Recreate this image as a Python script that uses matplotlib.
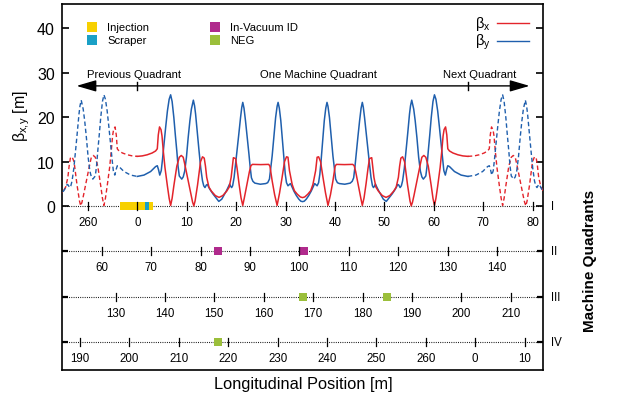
import matplotlib
matplotlib.use("Agg")
from matplotlib import pyplot as plt
from matplotlib.patches import Rectangle
from matplotlib.transforms import blended_transform_factory

plt.rcParams['font.family'] = ['Liberation Sans', 'DejaVu Sans']

# beta functions along one machine quadrant (solid) and the neighbouring ones (dashed)
# s in metres (ring position of row I), beta in metres
bx_prev_s = [-15.8, -15.0, -14.5, -14.05, -13.8, -13.55, -13.2, -12.8, -12.2, -11.7, -11.45, -11.2,
             -10.9, -10.1, -9.6, -9.3, -8.9, -8.5, -8.0, -7.4, -7.05, -6.75, -6.45, -6.1, -5.6,
             -5.3, -5.0, -4.8, -4.5, -4.25, -4.05, -3.7, -3.0, -2.0, -1.0, 0.0]
bx_prev = [2.4, 3.4, 4.3, 6.5, 9.0, 10.8, 11.1, 10.0, 4.8, 1.2, 0.1, 0.9,
           2.4, 6.8, 9.5, 11.0, 11.4, 11.0, 9.0, 4.6, 1.8, 0.2, 1.8, 4.5, 8.7,
           12.0, 15.8, 17.2, 17.8, 16.0, 12.9, 12.4, 11.95, 11.55, 11.3, 11.2]

bx_quad_s = [0.0, 1.0, 2.0, 3.0, 3.7, 4.05, 4.25, 4.5, 4.8, 5.0, 5.3, 5.6, 6.1, 6.45, 6.75, 7.05,
             7.4, 8.0, 8.5, 8.9, 9.3, 9.6, 10.1, 10.9, 11.2, 11.45, 11.7, 12.2, 12.8, 13.2, 13.55,
             13.8, 14.05, 14.5, 15.0, 15.8, 16.55, 17.3, 18.1, 18.6, 19.0, 19.25, 19.45, 19.9,
             20.2, 20.6, 21.0, 21.35, 21.65, 22.2, 22.7, 23.0, 23.3, 25.0, 26.6, 26.85, 27.3,
             27.8, 28.3, 28.8, 29.3, 29.8, 30.2, 30.5, 30.8, 31.35, 31.8, 32.4, 33.0, 33.45,
             33.9, 34.5, 35.1, 35.55, 36.1, 36.4, 36.7, 37.1, 37.6, 38.1, 38.6, 39.1, 39.6,
             40.05, 40.3, 41.9, 43.6, 43.9, 44.2, 44.7, 45.25, 45.55, 45.9, 46.3, 46.7, 47.0,
             47.45, 47.65, 47.9, 48.3, 48.8, 49.6, 50.35, 51.1, 51.9, 52.4, 52.85, 53.1, 53.35,
             53.7, 54.1, 54.7, 55.2, 55.45, 55.7, 56.0, 56.8, 57.3, 57.6, 58.0, 58.4, 58.9,
             59.5, 59.85, 60.15, 60.45, 60.8, 61.3, 61.6, 61.9, 62.1, 62.4, 62.65, 62.85, 63.2,
             63.9, 64.9, 65.9, 66.9]
bx_quad = [11.2, 11.3, 11.55, 11.95, 12.4, 12.9, 16.0, 17.8, 17.2, 15.8, 12.0, 8.7, 4.5, 1.8, 0.2, 1.8,
           4.6, 9.0, 11.0, 11.4, 11.0, 9.5, 6.8, 2.4, 0.9, 0.1, 1.2, 4.8, 10.0, 11.1, 10.8,
           9.0, 6.5, 4.3, 3.4, 2.4, 2.0, 2.4, 3.4, 4.3, 6.5, 9.0, 10.9, 10.7,
           8.5, 5.0, 1.9, 0.2, 1.8, 4.9, 7.8, 9.1, 9.4, 9.35, 9.4, 9.0, 5.7,
           2.6, 0.2, 3.0, 6.4, 10.0, 11.1, 11.0, 8.0, 4.9, 3.5, 2.7, 2.1, 1.95,
           2.1, 2.7, 3.5, 4.9, 8.0, 11.0, 11.1, 10.0, 6.4, 3.0, 0.2, 2.6, 5.7,
           9.0, 9.4, 9.35, 9.4, 9.1, 7.8, 4.9, 1.8, 0.2, 1.9, 5.0, 8.5, 10.7,
           10.9, 9.0, 6.5, 4.3, 3.4, 2.4, 2.0, 2.4, 3.4, 4.3, 6.5, 9.0, 10.8,
           11.1, 10.0, 4.8, 1.2, 0.1, 0.9, 2.4, 6.8, 9.5, 11.0, 11.4, 11.0, 9.0,
           4.6, 1.8, 0.2, 1.8, 4.5, 8.7, 12.0, 15.8, 17.2, 17.8, 16.0, 12.9, 12.4,
           11.95, 11.55, 11.3, 11.2]

bx_next_s = [66.9, 68.2, 69.2, 70.2, 70.9, 71.25, 71.45, 71.7, 72.0, 72.2, 72.5, 72.8, 73.3, 73.65,
             73.95, 74.25, 74.6, 75.2, 75.7, 76.1, 76.5, 76.8, 77.3, 78.1, 78.4, 78.65, 78.9,
             79.4, 80.0, 80.4, 80.75, 81.0, 81.25, 81.7, 82.2]
bx_next = [11.2, 11.3, 11.55, 11.95, 12.4, 12.9, 16.0, 17.8, 17.2, 15.8, 12.0, 8.7, 4.5, 1.8,
           0.2, 1.8, 4.6, 9.0, 11.0, 11.4, 11.0, 9.5, 6.8, 2.4, 0.9, 0.1, 1.2,
           4.8, 10.0, 11.1, 10.8, 9.0, 6.5, 4.3, 3.4]

by_prev_s = [-15.9, -15.3, -14.7, -14.45, -14.2, -14.0, -13.7, -13.45, -13.2, -12.85, -12.5, -12.15,
             -11.8, -11.6, -11.35, -10.95, -10.65, -10.3, -9.95, -9.6, -9.3, -9.0, -8.5, -8.25,
             -8.0, -7.7, -7.4, -7.05, -6.75, -6.45, -6.1, -5.75, -5.4, -5.1, -4.85, -4.55, -4.3,
             -4.05, -3.7, -2.7, -1.35, 0.0]
by_prev = [1.95, 2.8, 3.8, 4.3, 4.9, 4.8, 4.2, 4.6, 5.7, 8.5, 12.4, 16.5,
           20.7, 22.5, 23.8, 21.8, 19.2, 15.4, 11.0, 7.9, 6.6, 6.1, 6.8, 9.0,
           12.4, 16.0, 19.9, 23.5, 25.0, 24.0, 21.4, 17.8, 13.9, 10.5, 8.0, 7.0, 8.2,
           9.1, 8.9, 7.8, 7.0, 6.7]

by_quad_s = [0.0, 1.35, 2.7, 3.7, 4.05, 4.3, 4.55, 4.85, 5.1, 5.4, 5.75, 6.1, 6.45, 6.75, 7.05, 7.4,
             7.7, 8.0, 8.25, 8.5, 9.0, 9.3, 9.6, 9.95, 10.3, 10.65, 10.95, 11.35, 11.6, 11.8,
             12.15, 12.5, 12.85, 13.2, 13.45, 13.7, 14.0, 14.2, 14.45, 14.7, 15.3, 15.9, 16.5,
             17.1, 17.6, 18.1, 18.5, 18.7, 18.9, 19.1, 19.3, 19.6, 19.9, 20.2, 20.55, 20.9,
             21.15, 21.35, 21.6, 21.9, 22.25, 22.6, 22.85, 23.1, 23.4, 23.8, 24.9, 26.0, 26.4,
             26.75, 27.0, 27.3, 27.65, 28.0, 28.3, 28.5, 28.75, 29.05, 29.4, 29.7, 29.95, 30.2,
             30.5, 30.8, 31.0, 31.3, 31.7, 32.2, 32.7, 33.1, 33.45,
             33.8, 34.2, 34.7, 35.2, 35.6, 35.9, 36.1, 36.4, 36.7, 36.95, 37.2, 37.5, 37.85,
             38.15, 38.4, 38.6, 38.9, 39.25, 39.6, 39.9, 40.15, 40.5, 40.9, 42.0, 43.1, 43.5,
             43.8, 44.05, 44.3, 44.65, 45.0, 45.3, 45.55, 45.75, 46.0, 46.35, 46.7, 47.0, 47.3,
             47.6, 47.8, 48.0, 48.2, 48.4, 48.8, 49.3, 49.8, 50.4, 51.0, 51.6, 52.2, 52.45,
             52.7, 52.9, 53.2, 53.45, 53.7, 54.05, 54.4, 54.75, 55.1, 55.3, 55.55, 55.95, 56.25,
             56.6, 56.95, 57.3, 57.6, 57.9, 58.4, 58.65, 58.9, 59.2, 59.5, 59.85, 60.15, 60.45,
             60.8, 61.15, 61.5, 61.8, 62.05, 62.35, 62.6, 62.85, 63.2, 64.2, 65.55, 66.9]
by_quad = [6.7, 7.0, 7.8, 8.9, 9.1, 8.2, 7.0, 8.0, 10.5, 13.9, 17.8, 21.4, 24.0, 25.0, 23.5, 19.9,
           16.0, 12.4, 9.0, 6.8, 6.1, 6.6, 7.9, 11.0, 15.4, 19.2, 21.8, 23.8, 22.5, 20.7,
           16.5, 12.4, 8.5, 5.7, 4.6, 4.2, 4.8, 4.9, 4.3, 3.8, 2.8, 1.95, 1.1,
           1.6, 2.6, 3.6, 4.5, 5.0, 4.5, 4.2, 4.6, 6.5, 9.5, 12.4, 16.2, 19.9,
           22.2, 23.3, 22.0, 19.2, 15.5, 11.7, 8.8, 6.4, 5.6, 5.2, 4.95, 5.1, 5.3,
           6.1, 8.5, 11.3, 15.6, 19.9, 22.4, 23.3, 22.0, 19.2, 14.5, 10.2, 7.2, 5.3,
           4.6, 4.9, 5.1, 4.4, 3.4, 2.4, 1.6, 1.15, 1.05,
           1.15, 1.6, 2.4, 3.4, 4.4, 5.1, 4.9, 4.6, 5.3, 7.2, 10.2, 14.5, 19.2,
           22.0, 23.3, 22.4, 19.9, 15.6, 11.3, 8.5, 6.1, 5.3, 5.1, 4.95, 5.2, 5.6,
           6.4, 8.8, 11.7, 15.5, 19.2, 22.0, 23.3, 22.2, 19.9, 16.2, 12.4, 9.5, 6.5,
           4.6, 4.2, 4.5, 5.0, 4.5, 3.6, 2.6, 1.6, 1.1, 1.95, 2.8, 3.8, 4.3,
           4.9, 4.8, 4.2, 4.6, 5.7, 8.5, 12.4, 16.5, 20.7, 22.5, 23.8, 21.8, 19.2,
           15.4, 11.0, 7.9, 6.6, 6.1, 6.8, 9.0, 12.4, 16.0, 19.9, 23.5, 25.0, 24.0,
           21.4, 17.8, 13.9, 10.5, 8.0, 7.0, 8.2, 9.1, 8.9, 7.8, 7.0, 6.7]

by_next_s = [66.9, 68.55, 69.9, 70.9, 71.25, 71.5, 71.75, 72.05, 72.3, 72.6, 72.95, 73.3, 73.65,
             73.95, 74.25, 74.6, 74.9, 75.2, 75.45, 75.7, 76.2, 76.5, 76.8, 77.15, 77.5, 77.85,
             78.15, 78.55, 78.8, 79.0, 79.35, 79.7, 80.05, 80.4, 80.65, 80.9, 81.2, 81.4, 81.65,
             81.9, 82.5]
by_next = [6.7, 7.0, 7.8, 8.9, 9.1, 8.2, 7.0, 8.0, 10.5, 13.9, 17.8, 21.4, 24.0,
           25.0, 23.5, 19.9, 16.0, 12.4, 9.0, 6.8, 6.1, 6.6, 7.9, 11.0, 15.4, 19.2,
           21.8, 23.8, 22.5, 20.7, 16.5, 12.4, 8.5, 5.7, 4.6, 4.2, 4.8, 4.9, 4.3,
           3.8, 2.8]

# the four quadrants are stacked as rows, each row shifted by one quadrant length
quadrant_names = ['I', 'II', 'III', 'IV']
row_levels = [0.0, -10.1, -20.25, -30.5]
row_shift = [0.0, 67.2, 134.4, 201.6]
row_ticks = [
    [-10, 0, 10, 20, 30, 40, 50, 60, 70, 80],
    [60, 70, 80, 90, 100, 110, 120, 130, 140],
    [130, 140, 150, 160, 170, 180, 190, 200, 210],
    [190, 200, 210, 220, 230, 240, 250, 260, 270, 280],
]
ring_label_period = 270

# components along the ring: (row, start s, end s)
injection = [(0, -3.5, 3.1)]
scraper = [(0, 1.6, 2.4)]
# (row, s)
invacuum_id = [(1, 83.5), (1, 100.85)]
neg = [(2, 168.0), (2, 185.0), (3, 217.9)]

RED = '#e3242b'
BLUE = '#1f5fad'
C_INJ = '#f7d000'
C_SCR = '#1aa0c6'
C_IVU = '#b02a8c'
C_NEG = '#9bbf3b'

W, H = 620, 406
fig = plt.figure(figsize=(W / 100, H / 100), dpi=100)
L, R, T, B = 61.7, 542.7, 5.0, 370.5
ax = fig.add_axes([L / W, 1 - B / H, (R - L) / W, (B - T) / H])
ax.set_xlim(-15.3, 82.06)
ax.set_ylim(-36.59, 45.36)


def pa(px, py):
    # pixel position -> axes fraction
    return (px - L) / (R - L), (B - py) / (B - T)


dash = (0, (3.2, 2.0))
ax.plot(bx_prev_s, bx_prev, color=RED, lw=1.0, ls=dash, zorder=4)
ax.plot(bx_next_s, bx_next, color=RED, lw=1.0, ls=dash, zorder=4)
ax.plot(by_prev_s, by_prev, color=BLUE, lw=1.0, ls=dash, zorder=4)
ax.plot(by_next_s, by_next, color=BLUE, lw=1.0, ls=dash, zorder=4)
ax.plot(by_quad_s, by_quad, color=BLUE, lw=1.1, zorder=5)
ax.plot(bx_quad_s, bx_quad, color=RED, lw=1.1, zorder=6)

# quadrant rows: dotted line, ticks and ring-position labels
for k, lev in enumerate(row_levels):
    ax.axhline(lev, color='k', lw=0.8, ls=(0, (0.8, 1.2)), zorder=2)
    for s in row_ticks[k]:
        x = s - row_shift[k]
        ax.plot([x, x], [lev - 0.9, lev + 0.9], color='k', lw=0.9, zorder=8)
        ax.text(x, lev - 3.6, str(s % ring_label_period), ha='center', va='center', fontsize=8.3)

for k, s0, s1 in injection:
    ax.add_patch(Rectangle((s0 - row_shift[k], row_levels[k] - 0.9), s1 - s0, 1.8,
                           color=C_INJ, lw=0, zorder=3))
for k, s0, s1 in scraper:
    ax.add_patch(Rectangle((s0 - row_shift[k], row_levels[k] - 0.9), s1 - s0, 1.8,
                           color=C_SCR, lw=0, zorder=3))
for k, s in invacuum_id:
    ax.plot(s - row_shift[k], row_levels[k], 's', color=C_IVU, ms=6.2, mew=0, zorder=7)
for k, s in neg:
    ax.plot(s - row_shift[k], row_levels[k], 's', color=C_NEG, ms=6.2, mew=0, zorder=7)

# quadrant arrow
arr_y = 27.0
ax.annotate('', xy=(-12.3, arr_y), xytext=(79.4, arr_y),
            arrowprops=dict(arrowstyle='<|-|>,head_length=1.2,head_width=0.35',
                            color='k', lw=1.0, shrinkA=0, shrinkB=0))
for x in (0.0, 67.0):
    ax.plot([x, x], [arr_y - 0.85, arr_y + 0.85], color='k', lw=1.0)
ax.text(-0.7, 29.6, 'Previous Quadrant', ha='center', va='center', fontsize=8.1)
ax.text(36.7, 29.6, 'One Machine Quadrant', ha='center', va='center', fontsize=8.1)
ax.text(69.4, 29.6, 'Next Quadrant', ha='center', va='center', fontsize=8.1)

# component legend
for (px, py), c, name in [((92, 28), C_INJ, 'Injection'), ((92, 41), C_SCR, 'Scraper'),
                          ((215.4, 28), C_IVU, 'In-Vacuum ID'), ((215.4, 41), C_NEG, 'NEG')]:
    xa, ya = pa(px, py)
    ax.plot([xa], [ya], 's', color=c, ms=6.5, mew=0, transform=ax.transAxes)
    ax.text(pa(px + 15, py)[0], ya, name, transform=ax.transAxes, ha='left', va='center',
            fontsize=8.1)

# beta legend
for py, c, lab in [(23.8, RED, r'$\mathregular{β_x}$'), (42.2, BLUE, r'$\mathregular{β_y}$')]:
    x0, ya = pa(496.7, py)
    x1, _ = pa(529.3, py)
    ax.plot([x0, x1], [ya, ya], color=c, lw=1.0, transform=ax.transAxes)
    ax.text(pa(491, py)[0], ya, lab, transform=ax.transAxes, ha='right', va='center',
            fontsize=10.5)

# axes cosmetics
for sp in ax.spines.values():
    sp.set_linewidth(1.2)
ax.set_xticks([])
ax.set_yticks([0, 10, 20, 30, 40])
ax.set_yticks(row_levels[1:], minor=True)
ax.tick_params(axis='y', which='major', direction='in', length=5, width=1.2,
               right=True, labelsize=11.5, pad=5)
ax.tick_params(axis='y', which='minor', direction='in', length=4, width=1.6,
               left=True, right=True)

tr = blended_transform_factory(ax.transAxes, ax.transData)
for name, lev in zip(quadrant_names, row_levels):
    ax.text(1.018, lev, name, transform=tr, ha='left', va='center', fontsize=8.3)

fig.text(22 / W, 1 - 116 / H, r'$\mathregular{β_{x,\!y}}$ [m]', rotation=90,
         ha='center', va='center', fontsize=11.5)
fig.text(303 / W, 1 - 385 / H, 'Longitudinal Position [m]', ha='center', va='center',
         fontsize=11.8)
fig.text(590 / W, 1 - 261 / H, 'Machine Quadrants', rotation=90, ha='center', va='center',
         fontsize=11, fontweight='bold')

fig.savefig('out.png', dpi=100)
